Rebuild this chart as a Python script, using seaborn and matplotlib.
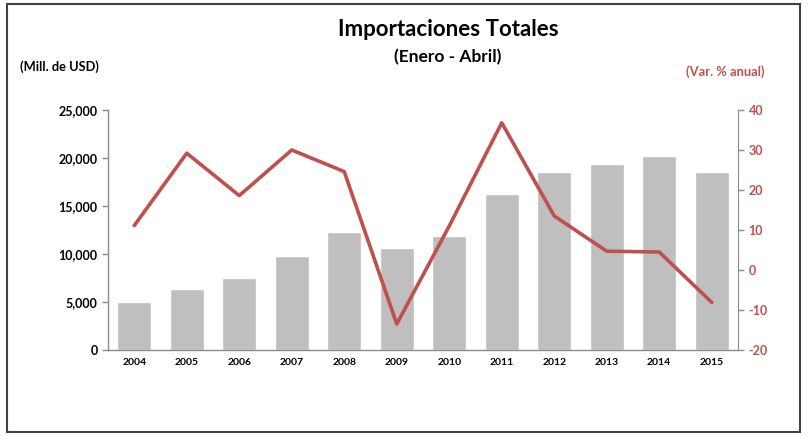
import numpy as np
import pandas as pd
import matplotlib
matplotlib.use("Agg")
import matplotlib.pyplot as plt
from matplotlib.patches import Rectangle
import seaborn as sns

years = ["2004", "2005", "2006", "2007", "2008", "2009",
         "2010", "2011", "2012", "2013", "2014", "2015"]
importaciones = [5000, 6350, 7550, 9820, 12260, 10620,
                 11880, 16250, 18500, 19380, 20200, 18530]
var_anual = [11.1, 29.2, 18.6, 30.0, 24.6, -13.5,
             11.0, 36.8, 13.5, 4.7, 4.5, -8.1]

df = pd.DataFrame({"year": years, "imp": importaciones, "var": var_anual})

sns.set_style("white")
plt.rcParams["font.family"] = ["Lato", "DejaVu Sans"]
plt.rcParams["text.color"] = "black"

red = "#C0504D"
grey_bar = "#BFBFBF"
axis_grey = "#8C8C8C"

fig = plt.figure(figsize=(8.09, 4.36), dpi=100)
ax = fig.add_axes([108 / 809, 1 - 350 / 436, 630 / 809, 240 / 436])

sns.barplot(data=df, x="year", y="imp", color=grey_bar, width=0.65,
            saturation=1, ax=ax)
ax.set_ylim(0, 25000)
ax.set_xlim(-0.5, len(years) - 0.5)
ax.set_yticks(np.arange(0, 25001, 5000))
ax.set_yticklabels([f"{v:,}" for v in range(0, 25001, 5000)],
                   fontsize=9, fontweight="bold")
ax.set_xticks(range(len(years)))
ax.set_xticklabels(years, fontsize=7.5, fontweight="bold")
ax.set_xticks(np.arange(-0.5, len(years), 1), minor=True)
ax.tick_params(axis="x", which="major", length=0, pad=6, labelcolor="black")
ax.tick_params(axis="x", which="minor", length=4, color=axis_grey, direction="out")
ax.tick_params(axis="y", length=4, color=axis_grey, direction="out", width=1,
               labelcolor="black")
ax.set_xlabel("")
ax.set_ylabel("")
for side in ["top", "right"]:
    ax.spines[side].set_visible(False)
for side in ["left", "bottom"]:
    ax.spines[side].set_color(axis_grey)
    ax.spines[side].set_linewidth(1)

ax2 = ax.twinx()
sns.lineplot(data=df, x="year", y="var", color=red, linewidth=2.6, ax=ax2)
ax2.set_ylim(-20, 40)
ax2.set_xlim(-0.5, len(years) - 0.5)
ax2.set_yticks(np.arange(-20, 41, 10))
ax2.set_yticklabels([str(v) for v in range(-20, 41, 10)],
                    fontsize=9, fontweight="bold", color=red)
ax2.tick_params(axis="y", length=4, color=axis_grey, direction="out", width=1)
ax2.set_ylabel("")
ax2.set_xlabel("")
for side in ["top", "left", "bottom"]:
    ax2.spines[side].set_visible(False)
ax2.spines["right"].set_color(axis_grey)

fig.text(448 / 809, 1 - 30 / 436, "Importaciones Totales", ha="center",
         va="center", fontsize=16, fontweight="bold", color="black")
fig.text(448 / 809, 1 - 57 / 436, "(Enero - Abril)", ha="center",
         va="center", fontsize=12.5, fontweight="bold", color="black")
fig.text(20 / 809, 1 - 67 / 436, "(Mill. de USD)", ha="left",
         va="center", fontsize=9.3, fontweight="bold", color="black")
fig.text(765 / 809, 1 - 72 / 436, "(Var. % anual)", ha="right",
         va="center", fontsize=9.3, fontweight="bold", color=red)

fig.patches.append(Rectangle((7 / 809, 4 / 436), 793 / 809, 428 / 436,
                             transform=fig.transFigure, fill=False,
                             edgecolor="#404040", linewidth=1.5))

fig.savefig("out.png", dpi=100)
